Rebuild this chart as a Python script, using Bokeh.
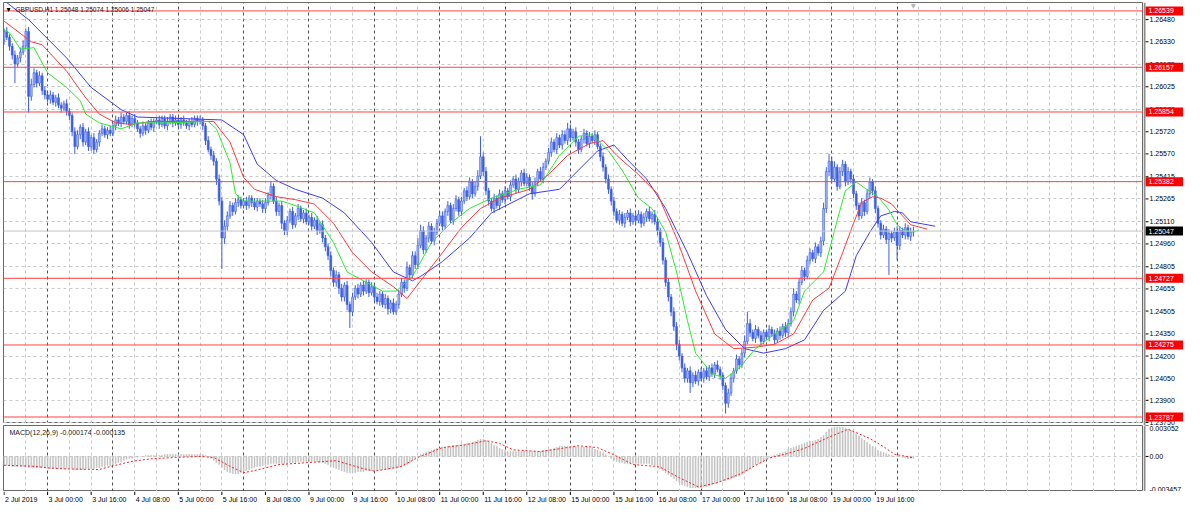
from bokeh.plotting import figure
from bokeh.models import Range1d, FixedTicker, Label, Grid, Span, ColumnDataSource
from bokeh.core.properties import value
from bokeh.layouts import column, row
from bokeh.embed import file_html
from bokeh.resources import INLINE

# ---------------- data ----------------
header = "GBPUSD,H1  1.25048 1.25074 1.25006 1.25047"
macd_title = "MACD(12,26,9) -0.000174 -0.000135"

first_open = 1.2634
closes = [
1.2640,1.2636,1.2630,1.2624,1.2618,1.2622,1.2626,1.2630,
1.2640,1.2596,1.2604,1.2612,1.2605,1.2610,1.2600,1.2597,
1.2594,1.2597,1.2592,1.2595,1.2590,1.2588,1.2591,1.2586,
1.2583,1.2572,1.2562,1.2570,1.2575,1.2565,1.2572,1.2562,
1.2568,1.2560,1.2565,1.2571,1.2574,1.2570,1.2573,1.2571,
1.2576,1.2580,1.2578,1.2582,1.2579,1.2583,1.2577,1.2581,
1.2578,1.2574,1.2571,1.2576,1.2573,1.2578,1.2575,1.2579,
1.2580,1.2577,1.2581,1.2576,1.2579,1.2582,1.2578,1.2580,
1.2577,1.2580,1.2578,1.2576,1.2579,1.2577,1.2581,1.2579,
1.2580,1.2576,1.2566,1.2560,1.2556,1.2552,1.2540,1.2525,
1.2500,1.2508,1.2515,1.2522,1.2518,1.2524,1.2526,1.2522,
1.2525,1.2522,1.2527,1.2524,1.2521,1.2525,1.2523,1.2520,
1.2524,1.2529,1.2535,1.2525,1.2518,1.2522,1.2510,1.2505,
1.2512,1.2518,1.2509,1.2515,1.2520,1.2513,1.2517,1.2511,
1.2514,1.2508,1.2512,1.2505,1.2509,1.2500,1.2494,1.2488,
1.2478,1.2470,1.2475,1.2466,1.2460,1.2468,1.2455,1.2450,
1.2460,1.2466,1.2462,1.2468,1.2464,1.2470,1.2463,1.2467,
1.2460,1.2457,1.2462,1.2455,1.2459,1.2452,1.2456,1.2450,
1.2455,1.2462,1.2470,1.2466,1.2480,1.2475,1.2488,1.2482,
1.2495,1.2505,1.2492,1.2500,1.2508,1.2498,1.2504,1.2510,
1.2515,1.2508,1.2518,1.2522,1.2512,1.2520,1.2526,1.2518,
1.2525,1.2532,1.2528,1.2538,1.2530,1.2535,1.2542,1.2555,
1.2545,1.2532,1.2525,1.2520,1.2527,1.2522,1.2530,1.2526,
1.2532,1.2528,1.2536,1.2540,1.2533,1.2538,1.2544,1.2537,
1.2541,1.2535,1.2530,1.2538,1.2545,1.2540,1.2548,1.2552,
1.2558,1.2565,1.2560,1.2568,1.2563,1.2570,1.2566,1.2574,
1.2568,1.2572,1.2565,1.2560,1.2567,1.2571,1.2564,1.2569,
1.2566,1.2570,1.2562,1.2555,1.2548,1.2540,1.2533,1.2525,
1.2518,1.2512,1.2516,1.2510,1.2514,1.2517,1.2511,1.2515,
1.2512,1.2516,1.2510,1.2514,1.2518,1.2513,1.2516,1.2511,
1.2505,1.2497,1.2485,1.2470,1.2460,1.2450,1.2440,1.2428,
1.2420,1.2412,1.2405,1.2410,1.2402,1.2407,1.2403,1.2409,
1.2405,1.2410,1.2406,1.2412,1.2408,1.2414,1.2411,1.2407,
1.2400,1.2388,1.2395,1.2405,1.2410,1.2418,1.2414,1.2422,
1.2430,1.2442,1.2436,1.2432,1.2438,1.2434,1.2430,1.2436,
1.2433,1.2438,1.2435,1.2431,1.2437,1.2434,1.2440,1.2436,
1.2442,1.2450,1.2462,1.2458,1.2470,1.2478,1.2474,1.2485,
1.2490,1.2486,1.2494,1.2490,1.2498,1.2520,1.2545,1.2552,
1.2540,1.2548,1.2535,1.2545,1.2550,1.2538,1.2545,1.2540,
1.2530,1.2522,1.2515,1.2524,1.2518,1.2530,1.2538,1.2532,
1.2520,1.2510,1.2502,1.2506,1.2499,1.2503,1.2500,1.2504,
1.2495,1.2505,1.2502,1.2507,1.2501,1.2504,1.25047]

# upper / lower wick lengths in 0.0001
wick_up = [
2,3,2,2,3,2,3,4, 2,3,4,3,2,3,2,3, 2,3,2,2,3,2,2,3, 2,2,3,3,2,3,2,3,
2,3,2,2,3,2,2,3, 2,3,2,3,2,2,3,2, 3,2,2,3,2,2,3,2, 2,3,2,2,3,2,2,3,
2,2,3,2,2,3,2,2, 3,2,2,3,2,3,2,3, 3,4,3,3,2,3,3,2, 2,3,2,2,3,2,2,3,
3,2,3,2,3,2,3,2, 3,2,3,2,3,2,2,3, 2,3,2,3,2,3,2,2, 3,2,3,2,3,2,3,2,
3,2,3,2,3,2,2,3, 2,3,2,2,3,2,2,3, 2,3,3,2,4,2,3,3, 5,4,3,2,3,2,3,3,
3,3,2,3,2,3,3,2, 3,2,3,3,2,3,4,14, 3,3,2,2,3,2,3,2, 3,2,3,2,3,3,2,3,
3,2,3,3,2,3,3,2, 3,3,2,3,2,3,3,4, 3,2,3,2,2,3,2,3, 2,3,2,2,3,2,3,2,
3,2,3,2,3,2,3,2, 2,3,2,3,2,3,2,3, 3,2,3,2,3,2,3,3, 3,2,3,2,3,2,3,2,
3,2,3,2,3,2,3,2, 2,2,3,3,2,3,2,3, 4,8,3,2,3,2,3,2, 2,3,2,3,2,3,2,3,
3,3,4,2,3,3,2,3, 3,2,3,2,3,4,3,5, 3,4,2,3,3,2,3,2, 3,2,2,3,2,3,3,2,
3,2,2,3,2,3,2,3, 4,3,2,3,2,3,3]
wick_dn = [
3,2,3,3,13,2,3,2, 2,11,3,2,3,2,3,3, 2,3,2,3,2,3,2,3, 3,3,5,2,3,3,2,3,
3,3,2,3,2,2,3,2, 2,3,2,3,2,2,3,2, 3,2,3,2,3,2,2,3, 2,3,2,2,3,2,3,2,
2,3,2,2,3,2,2,3, 2,3,3,2,3,3,4,3, 21,4,3,2,3,2,3,2, 2,3,2,3,2,3,2,3,
3,2,3,2,3,3,4,3, 3,2,3,2,3,2,3,2, 2,3,2,3,2,3,3,3, 4,3,3,4,3,3,4,11,
3,2,3,2,3,2,3,2, 3,2,3,2,3,4,3,2, 2,3,2,3,2,3,2,3, 3,2,3,2,3,2,3,2,
2,3,2,3,2,3,2,3, 3,2,3,2,3,2,3,2, 3,3,3,2,3,2,3,2, 3,2,3,2,3,2,3,2,
2,3,4,2,3,2,3,2, 2,3,2,3,2,3,2,3, 3,2,3,3,2,3,2,3, 2,3,2,3,3,3,3,3,
3,2,3,2,3,2,3,2, 3,2,3,2,3,2,3,2, 3,3,3,3,3,3,3,4, 3,3,3,3,7,3,2,3,
2,3,2,3,2,3,2,3, 3,7,3,2,3,2,3,2, 3,2,3,2,3,2,3,2, 2,3,2,3,2,3,2,3,
3,2,3,2,3,2,3,2, 3,2,3,2,3,3,3,3, 3,2,3,2,3,3,2,3, 3,3,3,2,3,2,3,3,
3,3,3,2,3,24,3,2, 10,3,2,3,2,3,3]

# Alligator lines: (bar index, price)
lips_i = [0,2,6,11,16,23,28,30,35,39,43,49,59,75,78,83,85,88,95,102,107,114,121,126,132,139,144,150,157,164,171,179,189,197,204,211,216,222,227,233,238,243,247,251,254,260,265,270,276,283,290,294,301,306,309,313,316,321,325,328,330,333,336]
lips_p = [1.2641,1.2639,1.2628,1.2629,1.2612,1.2602,1.2593,1.2584,1.2578,1.2576,1.2574,1.2578,1.2578,1.2579,1.2574,1.2551,1.2530,1.2525,1.2525,1.2525,1.2522,1.2517,1.2497,1.2477,1.2471,1.2464,1.2464,1.2474,1.2497,1.2510,1.2520,1.2527,1.2533,1.2536,1.2556,1.2569,1.2570,1.2559,1.2546,1.2527,1.2520,1.2504,1.2477,1.2444,1.2422,1.2408,1.2405,1.2412,1.2425,1.2435,1.2444,1.2464,1.2477,1.2512,1.2532,1.2538,1.2534,1.2528,1.2519,1.2509,1.2506,1.2504,1.2505]
teeth_i = [0,10,14,23,30,35,41,47,54,66,77,83,88,92,100,107,114,121,128,135,143,148,153,161,168,175,182,193,200,207,215,220,225,233,240,247,254,261,268,276,283,290,297,303,308,312,315,319,322,326,330,333,339]
teeth_p = [1.2647,1.2633,1.2631,1.2613,1.2595,1.2584,1.2578,1.2577,1.2579,1.2579,1.2579,1.2565,1.2541,1.2533,1.2528,1.2526,1.2523,1.2510,1.2490,1.2477,1.2467,1.2459,1.2471,1.2490,1.2507,1.2520,1.2527,1.2533,1.2543,1.2556,1.2564,1.2566,1.2556,1.2543,1.2530,1.2500,1.2464,1.2435,1.2425,1.2426,1.2428,1.2435,1.2458,1.2466,1.2490,1.2510,1.2524,1.2528,1.2527,1.2523,1.2515,1.2509,1.2506]
jaw_i = [0,9,23,32,43,49,80,88,93,100,107,117,125,135,143,150,153,161,171,179,193,204,211,218,224,229,236,243,251,258,265,272,279,287,294,301,309,313,318,322,327,330,333,342]
jaw_p = [1.2661,1.2648,1.2622,1.2602,1.2587,1.2582,1.2580,1.2570,1.2550,1.2539,1.2533,1.2527,1.2517,1.2497,1.2477,1.2471,1.2474,1.2484,1.2500,1.2517,1.2530,1.2533,1.2546,1.2559,1.2563,1.2553,1.2540,1.2520,1.2490,1.2461,1.2438,1.2425,1.2422,1.2425,1.2431,1.2451,1.2464,1.2488,1.2504,1.2515,1.2518,1.2517,1.2511,1.2508]

levels = [1.26539, 1.26157, 1.25854, 1.25382, 1.24727, 1.24275, 1.23787]
last_price = 1.25047
price_ticks = [1.26480,1.26330,1.26175,1.26025,1.25870,1.25720,1.25570,1.25415,1.25265,
               1.25110,1.24960,1.24805,1.24655,1.24505,1.24350,1.24200,1.24050,1.23900,1.23750]

# MACD main (x 0.0001) per bar
macd = [
-9,-9,-9,-10,-10,-10,-10,-10, -10,-11,-11,-11,-11,-11,-11,-11, -12,-12,-12,-12,-12,-12,-12,-12,
-12,-12,-13,-13,-13,-13,-12,-12, -12,-12,-11,-11,-10,-10,-9,-9, -8,-7,-6,-5,-4,-3,-2,-2,
-1,-1,0,0,1,1,1,1, 1,1,1,2,2,2,2,2, 2,2,2,2,2,2,2,2, 2,2,1,0,-2,-4,-6,-8,
-11,-13,-15,-16,-17,-17,-17,-16, -15,-14,-13,-12,-11,-10,-10,-9, -8,-8,-7,-7,-7,-7,-7,-7,
-7,-6,-6,-6,-5,-5,-5,-5, -5,-5,-5,-5,-6,-6,-7,-8, -10,-11,-12,-13,-14,-15,-16,-16,
-16,-16,-15,-15,-15,-14,-14,-14, -14,-14,-13,-13,-13,-13,-12,-12, -12,-11,-10,-9,-8,-6,-4,-2,
0,2,3,4,5,6,7,8, 8,9,9,10,10,11,11,11, 12,12,13,13,14,15,16,17, 17,16,15,13,11,10,8,7,
6,5,5,5,5,5,5,5, 5,5,5,5,5,5,6,6, 7,7,8,9,10,10,10,10, 10,10,10,10,9,9,9,8,
8,7,6,5,4,2,0,-2, -4,-5,-6,-6,-7,-7,-7,-7, -7,-7,-7,-7,-7,-7,-8,-9,
-10,-12,-14,-16,-18,-20,-22,-24, -26,-28,-29,-30,-31,-31,-31,-31, -31,-30,-30,-29,-28,-27,-26,-25,
-24,-24,-23,-22,-21,-20,-19,-18, -16,-14,-12,-10,-8,-7,-6,-5, -3,-1,0,1,2,3,4,5,
7,8,9,10,11,12,13,14, 15,15,16,17,19,21,24,27, 28,29,29,29,29,28,27,26,
24,22,20,18,16,14,12,10, 8,6,5,4,3,2,1,0, 0,0,-1,-1,-2,-2,-2]
sig_i = [0,11,16,23,35,38,47,54,63,72,77,83,88,92,101,113,122,131,136,143,146,152,161,169,177,182,187,197,205,211,218,224,231,239,241,248,255,262,270,281,287,294,303,310,318,323,327,334]
sig_v = [-8.7,-9.7,-11.3,-12.3,-12.9,-10.6,-4.8,-2.3,-1,0,-1,-9.7,-16,-13.9,-8,-5.8,-4.2,-11.3,-14.5,-11.3,-9.7,-1,8.7,11.3,15.5,12.9,6.5,4.8,8,10.6,8.7,1.6,-8,-9.7,-10.6,-21,-30,-25.8,-17.7,-1.6,2.3,8,19,26.8,17.7,9.7,2.3,-1.35]
macd_max, macd_min = 0.003052, -0.003457
macd_tick_labels = ["0.003052", "0.00", "-0.003457"]

time_ticks = [0,16,32,48,64,80,96,112,128,144,160,176,192,208,224,240,256,272,288,304,320]
time_labels = ["2 Jul 2019","3 Jul 00:00","3 Jul 16:00","4 Jul 08:00","5 Jul 00:00","5 Jul 16:00",
               "8 Jul 08:00","9 Jul 00:00","9 Jul 16:00","10 Jul 08:00","11 Jul 00:00","11 Jul 16:00",
               "12 Jul 08:00","15 Jul 00:00","15 Jul 16:00","16 Jul 08:00","17 Jul 00:00","17 Jul 16:00",
               "18 Jul 08:00","19 Jul 00:00","19 Jul 16:00"]
day_starts = [16,40,64,88,112,136,160,184,208,232,256,280,304,328]

# ---------------- styling ----------------
FONT = "Liberation Sans"
FS = "7px"
FW = 1140          # chart frame width
AW = 40            # price-scale column width
MAIN_H = 421
MACD_H = 66
XEND = 418.5
Y0, Y1 = 1.23743, 1.26596
GRID_C = "#c8c8c8"
BORDER_C = "#6a6a6a"
LEVEL_C = "#ff4242"

n = len(closes)
idx = list(range(n))
opens = [first_open] + closes[:-1]
highs = [max(o, c) + u * 1e-4 for o, c, u in zip(opens, closes, wick_up)]
lows = [min(o, c) - d * 1e-4 for o, c, d in zip(opens, closes, wick_dn)]
tops = [max(o, c) for o, c in zip(opens, closes)]
bots = [min(o, c) for o, c in zip(opens, closes)]
fills = ["#a6b8f2" if c >= o else "#3d5fdc" for o, c in zip(opens, closes)]
light_ticks = [t for t in range(8, 420, 8) if t not in day_starts]


def make_fig(fw, fh, xr, yr, left=0, top=0, outline=None):
    f = figure(frame_width=fw, frame_height=fh, x_range=xr, y_range=yr,
               output_backend="svg", toolbar_location=None,
               x_axis_location=None, y_axis_location=None,
               min_border_left=left, min_border_right=0, min_border_top=top, min_border_bottom=0,
               background_fill_color="white", border_fill_color="white",
               outline_line_color=outline, outline_line_width=1)
    f.grid.visible = False
    return f


def add_grids(fig, yticks):
    fig.add_layout(Grid(dimension=0, ticker=FixedTicker(ticks=light_ticks),
                        grid_line_color=GRID_C, grid_line_dash="3 3", grid_line_width=1))
    fig.add_layout(Grid(dimension=0, ticker=FixedTicker(ticks=day_starts),
                        grid_line_color="#505050", grid_line_dash="3 3", grid_line_width=1))
    fig.add_layout(Grid(dimension=1, ticker=FixedTicker(ticks=yticks),
                        grid_line_color=GRID_C, grid_line_dash="3 3", grid_line_width=1))


# ---------------- main price panel ----------------
xr = Range1d(-0.2, XEND)
p = make_fig(FW, MAIN_H, xr, Range1d(Y0, Y1), left=3, top=2, outline=BORDER_C)
add_grids(p, price_ticks)

p.add_layout(Span(location=last_price, dimension="width", line_color="#c4c4c4", line_width=1))
for lv in levels:
    p.add_layout(Span(location=lv, dimension="width", line_color=LEVEL_C, line_width=1))

src = ColumnDataSource(dict(x=idx, h=highs, l=lows, t=tops, b=bots, f=fills))
p.segment(x0="x", y0="h", x1="x", y1="l", source=src, line_color="#3d5fdc", line_width=1)
p.vbar(x="x", width=0.7, top="t", bottom="b", source=src, fill_color="f",
       line_color="#3d5fdc", line_width=0.6)

p.line(jaw_i, jaw_p, line_color="#3c3cf5", line_width=1)
p.line(teeth_i, teeth_p, line_color="#ff3a3a", line_width=1)
p.line(lips_i, lips_p, line_color="#2ee82e", line_width=1)

p.add_layout(Label(x=-0.2, y=Y1, x_offset=3, y_offset=-7, text="\u25be", text_font="DejaVu Sans",
                   text_font_size="8px", text_color="#000000", text_baseline="middle"))
p.add_layout(Label(x=-0.2, y=Y1, x_offset=12, y_offset=-7, text=header, text_font=FONT,
                   text_font_size="6.5px", text_color="#202020", text_baseline="middle"))
p.add_layout(Label(x=n - 1, y=Y1, y_offset=-3, text="\u25bc", text_font="DejaVu Sans",
                   text_font_size="6px", text_color="#b0b0b0", text_align="center",
                   text_baseline="middle"))

# ---------------- price scale column ----------------
ext = 2 * (Y1 - Y0) / MAIN_H            # 2 extra pixels below so the last label is not cut
pa = make_fig(AW, MAIN_H + 2, Range1d(0, AW), Range1d(Y0 - ext, Y1), top=2)
pa.add_layout(Span(location=1, dimension="height", line_color="#8c8c8c", line_width=2))
pa.segment(x0=[2] * len(price_ticks), y0=price_ticks, x1=[5] * len(price_ticks), y1=price_ticks,
           line_color="#000000", line_width=1)
pa.text(x=[6] * len(price_ticks), y=price_ticks, text=[f"{t:.5f}" for t in price_ticks],
        text_font=value(FONT), text_font_size=FS, text_color="#000000",
        text_baseline="middle", text_align="left")
lab_y = levels + [last_price]
lab_c = ["#ff0000"] * len(levels) + ["#000000"]
pa.rect(x=[21] * len(lab_y), y=lab_y, width=38, height=9, height_units="screen",
        fill_color=lab_c, line_color=None)
pa.text(x=[5] * len(lab_y), y=lab_y, text=[f"{v:.5f}" for v in lab_y],
        text_font=value(FONT), text_font_size=FS, text_color="#ffffff",
        text_baseline="middle", text_align="left")

# ---------------- MACD panel ----------------
q = make_fig(FW, MACD_H, xr, Range1d(macd_min, macd_max), left=3, top=0, outline=BORDER_C)
add_grids(q, [0])
q.vbar(x=idx, top=[v * 1e-4 for v in macd], bottom=0, width=0.36,
       fill_color="#c0c0c0", line_color="#c0c0c0", line_width=0.5)
q.line(sig_i, [v * 1e-4 for v in sig_v], line_color="#ff2020", line_width=1, line_dash="2 2")
q.add_layout(Label(x=-0.2, y=macd_max, x_offset=6, y_offset=-7, text=macd_title, text_font=FONT,
                   text_font_size=FS, text_color="#202020", text_baseline="middle"))

qa = make_fig(AW, MACD_H, Range1d(0, AW), Range1d(macd_min, macd_max), top=0)
qa.add_layout(Span(location=1, dimension="height", line_color="#8c8c8c", line_width=2))
macd_ticks = [macd_max, 0, macd_min]
qa.segment(x0=[2] * 3, y0=macd_ticks, x1=[5] * 3, y1=macd_ticks, line_color="#000000", line_width=1)
qa.text(x=[6] * 3, y=macd_ticks, text=macd_tick_labels, text_font=value(FONT), text_font_size=FS,
        text_color="#000000", text_align="left", text_baseline=["top", "middle", "bottom"])

# ---------------- time scale strip ----------------
qx = make_fig(FW, 14, xr, Range1d(0, 1), left=3, top=0)
qx.segment(x0=time_ticks, y0=[1] * len(time_ticks), x1=time_ticks, y1=[0.75] * len(time_ticks),
           line_color="#000000", line_width=1)
qx.text(x=time_ticks, y=[0.45] * len(time_ticks), text=time_labels, text_font=value(FONT),
        text_font_size=FS, text_color="#000000", text_align="left", text_baseline="middle",
        x_offset=1)

layout = column(row(p, pa, spacing=0), row(q, qa, spacing=0), qx, spacing=0)
open("out.html", "w").write(file_html(layout, INLINE))
